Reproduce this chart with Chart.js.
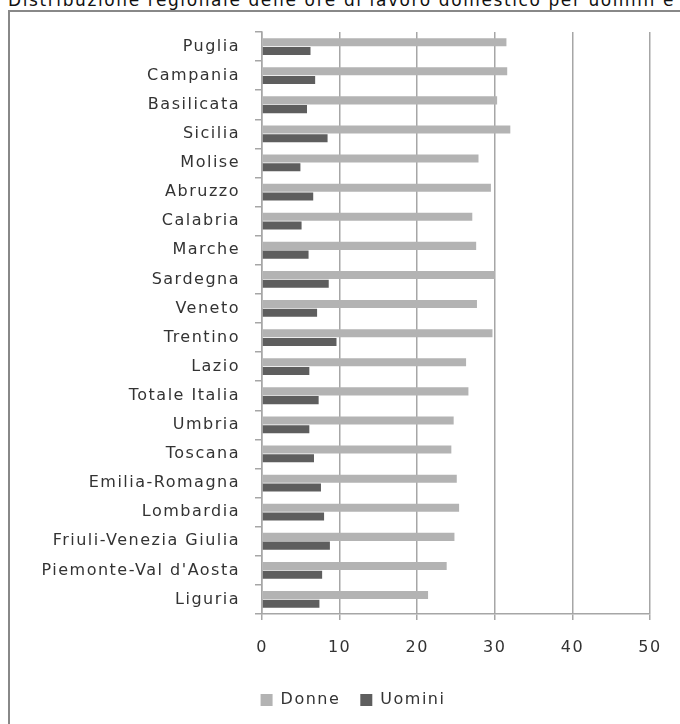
<!DOCTYPE html>
<html><head><meta charset="utf-8">
<script src="https://cdn.jsdelivr.net/npm/chart.js@4/dist/chart.umd.min.js"></script>
<style>
html,body{margin:0;padding:0;background:#fff;width:680px;height:724px;overflow:hidden;}
#title{position:absolute;left:8px;top:-10px;font-family:"DejaVu Sans";font-size:17px;letter-spacing:1.6px;white-space:nowrap;color:#111;line-height:20px;}
#frame{position:absolute;left:8px;top:10px;width:800px;height:800px;border:2.5px solid #888;box-sizing:border-box;}
#wrap{position:absolute;left:0;top:0;width:680px;height:724px;}
</style></head><body>
<div id="title">Distribuzione regionale delle ore di lavoro domestico per uomini e donne</div>
<div id="frame"></div>
<div id="wrap"><canvas id="c"></canvas></div>
<script>
const categories = ["Puglia","Campania","Basilicata","Sicilia","Molise","Abruzzo","Calabria","Marche","Sardegna","Veneto","Trentino","Lazio","Totale Italia","Umbria","Toscana","Emilia-Romagna","Lombardia","Friuli-Venezia Giulia","Piemonte-Val d'Aosta","Liguria"];
const donne  = [31.5,31.6,30.3,32.0,27.9,29.5,27.1,27.6,30.0,27.7,29.7,26.3,26.6,24.7,24.4,25.1,25.4,24.8,23.8,21.4];
const uomini = [6.25,6.85,5.8,8.45,4.95,6.6,5.1,6.0,8.6,7.1,9.6,6.1,7.3,6.1,6.7,7.6,8.0,8.75,7.75,7.4];
const xTickValues = [0,10,20,30,40,50];

const spacing = {
  id:'spacing',
  beforeLayout(chart){ chart.ctx.letterSpacing = '1.5px'; },
  afterLayout(chart){
    const lg = chart.legend;
    if (lg) { const w = lg.right - 56; lg.left = 56; lg.width = w; }
  },
  beforeDraw(chart){ chart.ctx.letterSpacing = '1.5px'; }
};

const gridCol = '#a6a6a6';
const txtCol = '#333';
const fnt = {family:'"DejaVu Sans"', size:16};

new Chart(document.getElementById('c'), {
  type:'bar',
  data:{
    labels:categories,
    datasets:[
      {label:'Donne', data:donne, backgroundColor:'#b3b3b3', borderWidth:0, barPercentage:0.92, categoryPercentage:0.6},
      {label:'Uomini', data:uomini, backgroundColor:'#5e5e5e', borderWidth:0, barPercentage:0.92, categoryPercentage:0.6}
    ]
  },
  plugins:[spacing],
  options:{
    indexAxis:'y',
    responsive:true,
    maintainAspectRatio:false,
    animation:false,
    layout:{padding:{left:0,right:30,top:32,bottom:6}},
    plugins:{
      tooltip:{enabled:false},
      title:{display:false},
      legend:{
        position:'bottom',
        labels:{boxWidth:12,boxHeight:12,padding:20,font:fnt,color:txtCol}
      }
    },
    scales:{
      x:{
        min:0,max:50,
        afterBuildTicks(s){ s.ticks = xTickValues.map(v=>({value:v})); },
        afterFit(s){ s.height = 58; },
        grid:{color:gridCol,lineWidth:1.5,tickLength:6,drawTicks:true},
        border:{display:true,color:gridCol,width:1.5},
        ticks:{font:fnt,color:txtCol,padding:18,maxRotation:0}
      },
      y:{
        afterFit(s){ s.width = 262; },
        grid:{offset:true,drawOnChartArea:false,color:gridCol,lineWidth:1.5,tickLength:7},
        border:{display:true,color:gridCol,width:1.5},
        ticks:{font:fnt,color:txtCol,padding:15,autoSkip:false}
      }
    }
  }
});
</script>
</body></html>
